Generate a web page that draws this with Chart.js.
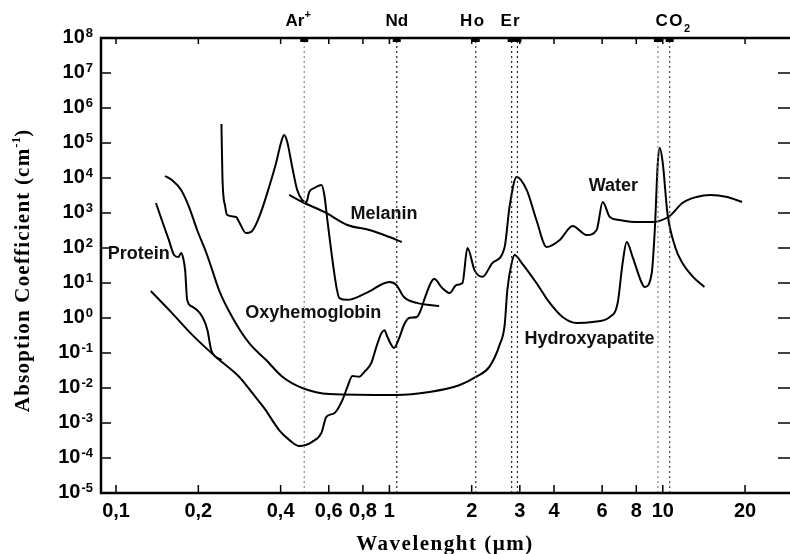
<!DOCTYPE html>
<html>
<head>
<meta charset="utf-8">
<script src="https://cdn.jsdelivr.net/npm/chart.js@4.4.0/dist/chart.umd.min.js"></script>
<style>
  html, body { margin: 0; padding: 0; background: #fff; overflow: hidden; }
  canvas { display: block; }
</style>
</head>
<body>
<canvas id="chart" width="800" height="554"></canvas>
<script>
// --- Data (wavelength in µm, absorption coefficient in cm^-1) ---
const waterWl  = [0.134, 0.160, 0.190, 0.232, 0.282, 0.315, 0.348, 0.395, 0.430, 0.468, 0.522, 0.564, 0.588, 0.629, 0.673,
                  0.702, 0.732, 0.776, 0.810, 0.859, 0.896, 0.935, 0.959, 0.983, 1.04, 1.09, 1.13, 1.18, 1.26, 1.31,
                  1.34, 1.46, 1.56, 1.66, 1.76, 1.85, 1.93, 2.05, 2.19, 2.38, 2.64, 2.75, 2.92, 3.18, 3.45,
                  3.76, 4.20, 4.68, 5.27, 5.73, 6.03, 6.40, 6.96, 8.03, 9.19, 10.6, 11.8, 13.3, 14.9, 17.2, 19.5];
const waterAbs = [5.9, 1.4, 0.33, 0.077, 0.021, 0.0072, 0.0027, 6.3e-4, 3.3e-4, 2.2e-4, 2.9e-4, 5.2e-4, 1.5e-3, 1.9e-3, 4.5e-3,
                  0.0107, 0.022, 0.021, 0.029, 0.052, 0.15, 0.37, 0.45, 0.29, 0.14, 0.29, 0.63, 1.0, 1.07, 1.9,
                  3.3, 13, 7.2, 5.2, 8.8, 10, 100, 23, 15, 37, 107, 1480, 10700, 4500, 630,
                  107, 170, 425, 235, 327, 2060, 770, 630, 553, 553, 820, 1930, 2870, 3270, 2870, 2060];

const hapWl  = [0.151, 0.160, 0.173, 0.185, 0.198, 0.214, 0.225, 0.238, 0.266, 0.307, 0.354, 0.406, 0.480, 0.603, 1.06,
                1.40, 1.80, 2.08, 2.32, 2.53, 2.64, 2.70, 2.80, 2.87, 3.05, 3.45, 3.86, 4.30, 4.84, 5.54,
                6.40, 6.84, 7.13, 7.38, 7.76, 8.38, 8.59, 9.11, 9.35, 9.59, 9.75, 10.0, 10.4, 11.1, 11.8, 12.9, 14.2];
const hapAbs = [11400, 8770, 4540, 1480, 327, 72, 23, 6.3, 1.07, 0.19, 0.063, 0.021, 0.010, 0.0067, 0.0063,
                0.0077, 0.012, 0.021, 0.040, 0.17, 0.63, 6.3, 37, 63, 37, 10, 2.7, 1.07, 0.72, 0.77,
                1.07, 2.7, 37, 148, 55, 10, 7.7, 19, 327, 26800, 72000, 26800, 1000, 107, 37, 15, 7.7];

const proteinWl  = [0.140, 0.147, 0.156, 0.163, 0.169, 0.173, 0.176, 0.179, 0.182, 0.190, 0.207, 0.216, 0.223, 0.243];
const proteinAbs = [1930, 630, 170, 63, 55, 72, 52, 23, 3.3, 2.1, 1.07, 0.45, 0.12, 0.063];

const hbo2Wl  = [0.243, 0.245, 0.251, 0.255, 0.275, 0.282, 0.299, 0.312, 0.334, 0.363, 0.385, 0.402, 0.412, 0.423, 0.441,
                 0.460, 0.480, 0.497, 0.509, 0.531, 0.564, 0.578, 0.593, 0.614, 0.640, 0.656, 0.702, 0.824, 1.0, 1.06,
                 1.13, 1.26, 1.52];
const hbo2Abs = [349000, 10700, 1480, 877, 770, 553, 268, 287, 770, 5530, 26800, 107000, 169000, 107000, 20600,
                 4540, 2350, 2060, 3980, 5180, 6310, 3270, 630, 72, 7.7, 3.7, 3.3, 5.2, 10.7, 8.8,
                 4.0, 2.7, 2.2];

const melaninWl  = [0.430, 0.480, 0.578, 0.702, 0.845, 1.0, 1.11];
const melaninAbs = [3270, 2060, 1070, 454, 327, 206, 148];

// laser lines: Ar+, Nd, Ho, Er (x2), CO2 (x2)
const laserWl    = [0.488, 1.064, 2.07, 2.8, 2.94, 9.6, 10.6];
const laserColor = ['#888', '#222', '#333', '#222', '#222', '#888', '#444'];

const xTickVals   = [0.1, 0.2, 0.4, 0.6, 0.8, 1, 2, 3, 4, 6, 8, 10, 20];
const xTickLabels = ['0,1', '0,2', '0,4', '0,6', '0,8', '1', '2', '3', '4', '6', '8', '10', '20'];
const yTickExps   = [8, 7, 6, 5, 4, 3, 2, 1, 0, -1, -2, -3, -4, -5];

// --- Helpers ---
const zip = (xs, ys) => xs.slice(0, Math.min(xs.length, ys.length)).map((x, i) => ({ x, y: ys[i] }));
const SANS = '"Liberation Sans", Arial, sans-serif';
const SERIF = '"Liberation Serif", "Times New Roman", serif';

function curve(xs, ys) {
  return {
    data: zip(xs, ys),
    borderColor: '#000',
    borderWidth: 2,
    pointRadius: 0,
    cubicInterpolationMode: 'monotone',
    fill: false
  };
}
function laserLine(w, i) {
  return {
    data: [{ x: w, y: 1e-5 }, { x: w, y: 1e8 }],
    borderColor: laserColor[i],
    borderWidth: 1.2,
    borderDash: [2, 3],
    pointRadius: 0,
    fill: false
  };
}

// draw a row of text pieces (for super/subscripts), centred on cx
function drawParts(ctx, parts, cx, baseline) {
  let total = 0;
  parts.forEach(p => {
    ctx.font = p.font;
    ctx.letterSpacing = p.ls || '0px';
    p.w = ctx.measureText(p.text).width;
    total += p.w;
  });
  let px = cx - total / 2;
  parts.forEach(p => {
    ctx.font = p.font;
    ctx.letterSpacing = p.ls || '0px';
    ctx.fillText(p.text, px, baseline + (p.dy || 0));
    px += p.w;
  });
  ctx.letterSpacing = '0px';
}

// --- Axes, ticks and annotations (positions taken from the chart scales) ---
const paperAxes = {
  id: 'paperAxes',
  afterDraw(chart) {
    const { ctx, chartArea: a, scales: { x, y } } = chart;
    const line = (x1, y1, x2, y2) => { ctx.beginPath(); ctx.moveTo(x1, y1); ctx.lineTo(x2, y2); ctx.stroke(); };
    ctx.save();
    ctx.fillStyle = '#000';
    ctx.strokeStyle = '#000';

    // small laser marks under the top axis
    laserWl.forEach(w => {
      const px = x.getPixelForValue(w);
      ctx.fillRect(px - 4, a.top, 8, 4);
    });

    // frame
    ctx.lineWidth = 2.5;
    ctx.strokeRect(a.left, a.top, a.right - a.left, a.bottom - a.top);

    // ticks (inward)
    ctx.lineWidth = 1.5;
    xTickVals.forEach(v => {
      const px = x.getPixelForValue(v);
      line(px, a.bottom, px, a.bottom - 8);
      line(px, a.top, px, a.top + 6);
    });
    yTickExps.forEach(e => {
      const py = y.getPixelForValue(Math.pow(10, e));
      line(a.left, py, a.left + 10, py);
      line(a.right, py, a.right - 14, py);
    });

    // x tick labels
    ctx.textAlign = 'left';
    ctx.textBaseline = 'alphabetic';
    xTickVals.forEach((v, i) => {
      drawParts(ctx, [{ text: xTickLabels[i], font: 'bold 20px ' + SANS }], x.getPixelForValue(v), 517);
    });

    // y tick labels 10^n
    yTickExps.forEach(e => {
      const py = y.getPixelForValue(Math.pow(10, e));
      ctx.font = 'bold 20px ' + SANS;
      const w1 = ctx.measureText('10').width;
      ctx.font = 'bold 13px ' + SANS;
      const w2 = ctx.measureText(String(e)).width;
      const x0 = a.left - 8 - w1 - w2 - 1;
      ctx.font = 'bold 20px ' + SANS;
      ctx.fillText('10', x0, py + 5);
      ctx.font = 'bold 13px ' + SANS;
      ctx.fillText(String(e), x0 + w1 + 1, py - 1);
    });

    // laser names above the plot
    const big = 'bold 17px ' + SANS, small = 'bold 11px ' + SANS;
    const lx = w => x.getPixelForValue(w);
    drawParts(ctx, [{ text: 'Ar', font: big }, { text: '+', font: small, dy: -8 }], lx(0.488) - 6, 26);
    drawParts(ctx, [{ text: 'Nd', font: big }], lx(1.064), 26);
    drawParts(ctx, [{ text: 'Ho', font: big, ls: '1.5px' }], lx(2.07) - 3, 26);
    drawParts(ctx, [{ text: 'Er', font: big, ls: '1px' }], (lx(2.8) + lx(2.94)) / 2 - 4, 26);
    drawParts(ctx, [{ text: 'CO', font: big, ls: '1.5px' }, { text: '2', font: small, dy: 6 }], (lx(9.6) + lx(10.6)) / 2 + 9, 26);

    // curve names
    const lab = 'bold 18px ' + SANS;
    ctx.fillStyle = '#111';
    drawParts(ctx, [{ text: 'Melanin', font: lab }], lx(0.955), y.getPixelForValue(1000) + 6);
    drawParts(ctx, [{ text: 'Water', font: lab }], lx(6.6), y.getPixelForValue(6500) + 6);
    drawParts(ctx, [{ text: 'Protein', font: lab }], lx(0.121), y.getPixelForValue(70) + 6);
    drawParts(ctx, [{ text: 'Oxyhemoglobin', font: lab }], lx(0.527), y.getPixelForValue(1.5) + 6);
    drawParts(ctx, [{ text: 'Hydroxyapatite', font: lab }], lx(5.4), y.getPixelForValue(0.27) + 6);

    // axis titles
    ctx.fillStyle = '#000';
    drawParts(ctx, [{ text: 'Wavelenght (\u00b5m)', font: 'bold 21px ' + SERIF, ls: '1.5px' }], 445, 550);
    ctx.translate(29, 271);
    ctx.rotate(-Math.PI / 2);
    drawParts(ctx, [
      { text: 'Absoption Coefficient (cm', font: 'bold 21px ' + SERIF, ls: '1.2px' },
      { text: '-1', font: 'bold 13px ' + SERIF, dy: -9 },
      { text: ')', font: 'bold 21px ' + SERIF }
    ], 0, 0);
    ctx.restore();
  }
};

// --- Chart ---
new Chart(document.getElementById('chart'), {
  type: 'line',
  data: {
    datasets: [
      ...laserWl.map(laserLine),
      curve(waterWl, waterAbs),
      curve(hapWl, hapAbs),
      curve(proteinWl, proteinAbs),
      curve(hbo2Wl, hbo2Abs),
      curve(melaninWl, melaninAbs)
    ]
  },
  options: {
    responsive: false,
    animation: false,
    layout: { padding: { left: 101, top: 38, right: 8, bottom: 61 } },
    plugins: { legend: { display: false }, tooltip: { enabled: false } },
    scales: {
      x: { type: 'logarithmic', min: 0.0881, max: 29.7, display: false },
      y: { type: 'logarithmic', min: 1e-5, max: 1e8, display: false }
    }
  },
  plugins: [paperAxes]
});
</script>
</body>
</html>
